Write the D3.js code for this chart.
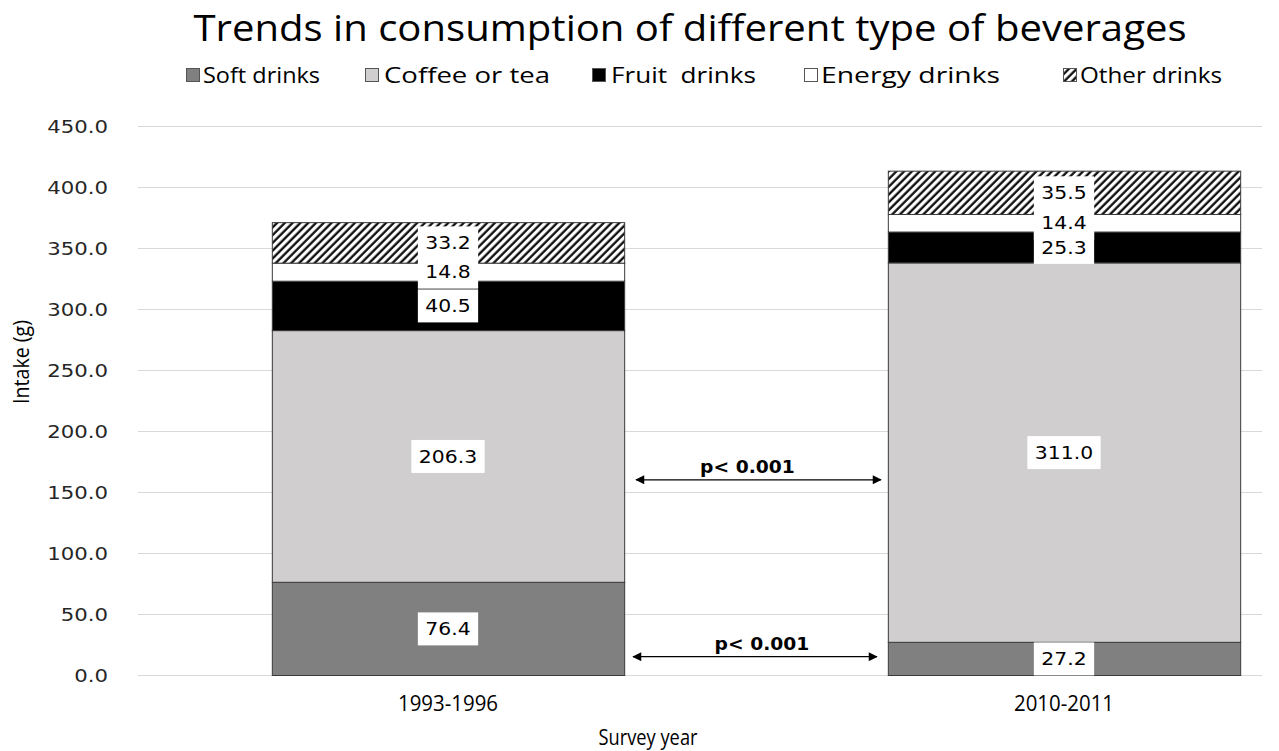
<!DOCTYPE html>
<html><head><meta charset="utf-8">
<script src="https://cdn.jsdelivr.net/npm/d3@7"></script>
<style>
body{margin:0;background:#fff;}
svg{display:block;}
.cond{font-family:"Open Sans",sans-serif;}
</style>
</head><body>
<svg id="c" width="1279" height="751"></svg>
<script>
// ---- data ----
const categories = ["1993-1996", "2010-2011"];
const seriesNames = ["Soft drinks", "Coffee or tea", "Fruit  drinks", "Energy drinks", "Other drinks"];
const softDrinks   = [76.4, 27.2];
const coffeeOrTea  = [206.3, 311.0];
const fruitDrinks  = [40.5, 25.3];
const energyDrinks = [14.8, 14.4];
const otherDrinks  = [33.2, 35.5];
const yTicks = [0, 50, 100, 150, 200, 250, 300, 350, 400, 450];
const pAnnotations = [
  {label: "p< 0.001", value: 160},
  {label: "p< 0.001", value: 15}
];
const title = "Trends in consumption of different type of beverages";

// ---- setup ----
const svg = d3.select("#c");
const fills = ["#808080", "#d0cece", "#000000", "#ffffff", "url(#hatch)"];

function stretch(sel, f) {
  sel.each(function () {
    const w = this.getComputedTextLength();
    d3.select(this).attr("textLength", w * f).attr("lengthAdjust", "spacingAndGlyphs");
  });
}

const defs = svg.append("defs");
const pat = defs.append("pattern").attr("id", "hatch")
  .attr("patternUnits", "userSpaceOnUse").attr("width", 5.5).attr("height", 5.5)
  .attr("patternTransform", "rotate(45)");
pat.append("rect").attr("width", 5.5).attr("height", 5.5).attr("fill", "#fff");
pat.append("line").attr("x1", 1.5).attr("x2", 1.5).attr("y1", 0).attr("y2", 5.5)
  .attr("stroke", "#000").attr("stroke-width", 2.2);

defs.append("marker").attr("id", "arr")
  .attr("viewBox", "0 0 10 10").attr("refX", 9).attr("refY", 5)
  .attr("markerWidth", 12).attr("markerHeight", 9).attr("markerUnits", "userSpaceOnUse")
  .attr("orient", "auto-start-reverse")
  .append("path").attr("d", "M0,0 L10,5 L0,10 z").attr("fill", "#000");

const y = d3.scaleLinear().domain([0, 450]).range([675, 126]);
const x = d3.scaleBand().domain(categories).range([140, 1372])
  .paddingInner(0.428).paddingOuter(0.214);
const gridX0 = 138, gridX1 = 1262;

// title
const tt = svg.append("text").attr("x", 690).attr("y", 41).attr("text-anchor", "middle")
  .attr("font-family", "Open Sans, sans-serif").attr("font-size", 37)
  .attr("fill", "#000").text(title);
tt.attr("textLength", 993).attr("lengthAdjust", "spacingAndGlyphs");

// grid
svg.append("g").selectAll("line").data(yTicks).join("line")
  .attr("x1", gridX0).attr("x2", gridX1)
  .attr("y1", d => y(d) + 0.5).attr("y2", d => y(d) + 0.5)
  .attr("stroke", "#d9d9d9").attr("stroke-width", 1);

// y axis labels
const yAxis = d3.axisLeft(y).tickValues(yTicks).tickFormat(d3.format(".1f")).tickSize(0).tickPadding(0);
const ya = svg.append("g").attr("transform", "translate(108,0)").call(yAxis);
ya.select(".domain").remove();
ya.selectAll("text").attr("font-family", "DejaVu Sans, Verdana, sans-serif")
  .attr("font-size", 17).attr("fill", "#262626").attr("dy", "0.4em");
stretch(ya.selectAll("text"), 1.25);

// stacked data
const rows = categories.map((c, i) => ({
  cat: c, s0: softDrinks[i], s1: coffeeOrTea[i], s2: fruitDrinks[i], s3: energyDrinks[i], s4: otherDrinks[i]
}));
const stack = d3.stack().keys(["s0", "s1", "s2", "s3", "s4"])(rows);

const gBars = svg.append("g");
stack.forEach((layer, li) => {
  gBars.selectAll(null).data(layer).join("rect")
    .attr("x", d => x(d.data.cat) + 0.5)
    .attr("width", x.bandwidth())
    .attr("y", d => y(d[1]) + 0.5)
    .attr("height", d => y(d[0]) - y(d[1]))
    .attr("fill", fills[li])
    .attr("stroke", "#3a3a3a").attr("stroke-width", 1);
});

// data labels
const gLab = svg.append("g");
stack.forEach((layer, li) => {
  layer.forEach(d => {
    const cx = x(d.data.cat) + x.bandwidth() / 2;
    const cy = y((d[0] + d[1]) / 2);
    const val = d[1] - d[0];
    const g = gLab.append("g");
    const r = g.append("rect").attr("fill", "#fff");
    const t = g.append("text").attr("x", cx).attr("y", cy).attr("dy", "0.37em")
      .attr("text-anchor", "middle").attr("font-family", "DejaVu Sans, Verdana, sans-serif")
      .attr("font-size", 18).attr("fill", "#000").text(d3.format(".1f")(val));
    stretch(t, 1.13);
    const w = +t.attr("textLength");
    r.attr("x", cx - w / 2 - 7.5).attr("width", w + 15)
      .attr("y", cy - 16).attr("height", 33);
  });
});

// p annotations
const pShift = [-11, 7];
pAnnotations.forEach((a, i) => {
  const ax0 = x(categories[0]) + x.bandwidth() + (i === 0 ? 12 : 9);
  const ax1 = x(categories[1]) - (i === 0 ? 7 : 11);
  svg.append("line").attr("x1", ax0).attr("x2", ax1)
    .attr("y1", y(a.value)).attr("y2", y(a.value))
    .attr("stroke", "#000").attr("stroke-width", 1.2)
    .attr("marker-start", "url(#arr)").attr("marker-end", "url(#arr)");
  const t = svg.append("text").attr("x", (ax0 + ax1) / 2 + pShift[i]).attr("y", y(a.value) - 7)
    .attr("text-anchor", "middle").attr("font-family", "DejaVu Sans, Verdana, sans-serif")
    .attr("font-weight", "bold").attr("font-size", 17).text(a.label);
  stretch(t, 1.1);
});

// x tick labels
svg.append("g").selectAll("text").data(categories).join("text")
  .attr("class", "cond")
  .attr("x", d => x(d) + x.bandwidth() / 2).attr("y", 711)
  .attr("text-anchor", "middle").attr("font-size", 21).attr("fill", "#000").text(d => d)
  .attr("textLength", 100).attr("lengthAdjust", "spacingAndGlyphs");

// axis titles
svg.append("text").attr("class", "cond").attr("x", 648).attr("y", 745)
  .attr("text-anchor", "middle").attr("font-size", 22).text("Survey year")
  .attr("textLength", 99).attr("lengthAdjust", "spacingAndGlyphs");
svg.append("text").attr("class", "cond")
  .attr("transform", "translate(29,362) rotate(-90)")
  .attr("text-anchor", "middle").attr("font-size", 22).text("Intake (g)")
  .attr("textLength", 84).attr("lengthAdjust", "spacingAndGlyphs");

// legend
const legSq = [186, 365, 592, 804, 1063];
const legTx = [203, 384, 611, 821, 1080];
const legW = [117, 166, 145, 179, 142];
const lg = svg.append("g");
seriesNames.forEach((n, i) => {
  lg.append("rect").attr("x", legSq[i] + 0.5).attr("y", 68.5).attr("width", 13).attr("height", 13)
    .attr("fill", fills[i]).attr("stroke", "#555").attr("stroke-width", 1);
  lg.append("text").attr("class", "cond").attr("x", legTx[i]).attr("y", 83)
    .attr("font-size", 22).attr("fill", "#000")
    .style("white-space", "pre").text(n)
    .attr("textLength", legW[i]).attr("lengthAdjust", "spacingAndGlyphs");
});
</script>
</body></html>
